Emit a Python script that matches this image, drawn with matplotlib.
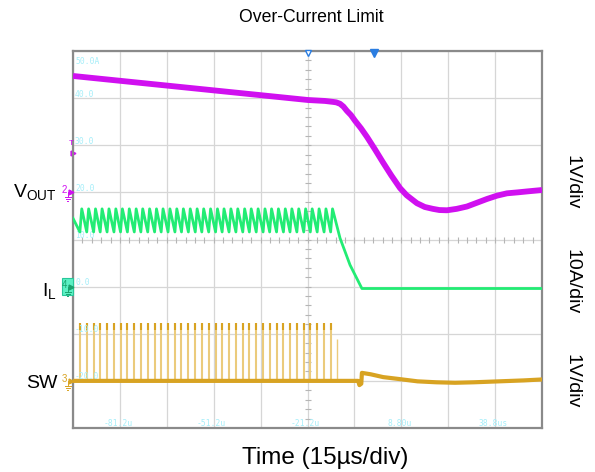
import numpy as np
import matplotlib
matplotlib.use('Agg')
import matplotlib.pyplot as plt
from matplotlib.patches import Rectangle

plt.rcParams['font.family'] = ['Liberation Sans', 'DejaVu Sans']
plt.rcParams['mathtext.default'] = 'regular'

# ─── Scope-Daten: Zeit in µs, Amplitude in Raster-Einheiten (10 pro div) ──────

T_LEFT, T_RIGHT = -96.2, 53.8
Y_BOT, Y_TOP = -30, 50

# V_OUT (Kanal 2, magenta)
VOUT_T = [-96.2, -21.05, -15.6, -13.05, -12.0, -10.8, -9.7, -8.6, -7.3, -6.0,
          -4.1, -2.2, 0.4, 2.9, 5.6, 8.4, 10.5, 13.8, 16.3, 18.9,
          21.0, 23.4, 26.5, 29.8, 33.0, 36.2, 39.4, 42.6, 46.0, 49.0, 53.8]
VOUT_V = [44.7, 39.6, 39.4, 39.2, 39.1, 38.8, 38.2, 37.3, 36.4, 35.2,
          33.6, 31.8, 29.1, 26.4, 23.6, 20.9, 19.4, 17.7, 16.9, 16.5,
          16.25, 16.2, 16.5, 17.0, 17.8, 18.6, 19.3, 19.8, 20.0, 20.2, 20.5]

# SW-Pulse (Kanal 3, gold) - Zeitpunkte der Einschaltpulse
SW_PULSE_T = [-94.0, -91.8, -89.6, -87.5, -85.3, -83.1, -81.0, -78.8, -76.6, -74.5,
              -72.3, -70.1, -68.0, -65.8, -63.6, -61.5, -59.3, -57.1, -55.0, -52.8,
              -50.6, -48.5, -46.3, -44.1, -41.9, -39.8, -37.6, -35.4, -33.3, -31.1,
              -28.9, -26.8, -24.6, -22.4, -20.3, -18.1, -15.9, -13.8]
SW_PULSE_TOP = -7.7
SW_RUNT_T = [-11.8]
SW_RUNT_TOP = [-11.1]
SW_BASE_T = [-96.2, -5.0, -4.6, -4.0, -3.8, -1.0, 3.0, 8.0, 14.0, 20.0,
             26.0, 32.0, 40.0, 48.0, 53.8]
SW_BASE_V = [-20.0, -20.0, -20.9, -20.6, -18.3, -18.6, -19.2, -19.6, -20.1, -20.3,
             -20.4, -20.3, -20.1, -19.9, -19.7]

# I_L (Kanal 4, gruen) - Dreieck zwischen Tal und Spitze, danach Abfall
IL_START = 14.5
IL_VALLEY = 11.6
IL_PEAK = 16.5
IL_RISE_US = 0.6
IL_DROP_T = [-13.2, -10.8, -7.6, -3.8, 53.8]
IL_DROP_V = [16.5, 10.3, 4.6, -0.4, -0.4]

# Beschriftungen
LEVEL_LABELS = ['40.0', '30.0', '20.0', '10.0', '0.0', '-10.0', '-20.0']
LEVEL_VALUES = [40, 30, 20, 10, 0, -10, -20]
TIME_LABELS = ['-81.2u', '-51.2u', '-21.2u', '8.80u', '38.8us']
TIME_VALUES = [-81.2, -51.2, -21.2, 8.8, 38.8]

# ─── Farben ───────────────────────────────────────────────────────────────────
COL_VOUT = '#d010f0'
COL_IL = '#22ec74'
COL_SW = '#d8a322'
COL_SW_LIGHT = '#ebcb7c'
COL_LBL = '#a6eef9'
COL_GRID = '#d6d6d6'
COL_FRAME = '#8a8a8a'
COL_TRIG = '#2a7de1'

PX_T = 15 / 46.9     # µs pro Pixel
PX_V = 10 / 47.125   # Einheiten pro Pixel


def chan_marker(ax, level, num, color, box=None):
    x0 = T_LEFT
    if box:
        ax.add_patch(Rectangle((x0 - 11 * PX_T, level - 8 * PX_V), 10.5 * PX_T, 17 * PX_V,
                               fc=box, ec='#28c79a', lw=0.8, clip_on=False, zorder=6))
    ax.text(x0 - 8.5 * PX_T, level + 2 * PX_V, num, color=color, fontsize=7,
            ha='center', va='center', clip_on=False, zorder=7)
    ax.plot([x0 - 2.5 * PX_T], [level], marker='>', ms=3.5, color=color,
            clip_on=False, zorder=7)
    gx = x0 - 5.5 * PX_T
    kw = dict(color=color, lw=0.7, clip_on=False, zorder=7)
    ax.plot([gx, gx], [level, level - 5 * PX_V], **kw)
    for w, dy in [(3, 5), (2, 7), (1, 9)]:
        ax.plot([gx - w * PX_T, gx + w * PX_T], [level - dy * PX_V] * 2, **kw)


fig = plt.figure(figsize=(5.95, 4.72), dpi=100)
ax = fig.add_axes([73 / 595, 1 - 428 / 472, 469 / 595, 377 / 472])
ax.set_xlim(T_LEFT, T_RIGHT)
ax.set_ylim(Y_BOT, Y_TOP)

# Raster
ax.set_xticks(np.linspace(T_LEFT, T_RIGHT, 11))
ax.set_yticks(np.arange(Y_BOT, Y_TOP + 1, 10))
ax.tick_params(length=0, labelbottom=False, labelleft=False)
ax.grid(True, color=COL_GRID, lw=0.9)
ax.set_axisbelow(True)
for sp in ax.spines.values():
    sp.set_color(COL_FRAME)
    sp.set_linewidth(1.6)

t_mid = (T_LEFT + T_RIGHT) / 2
ax.plot(np.full(41, t_mid), np.arange(Y_BOT, Y_TOP + 0.1, 2), ls='none',
        marker='_', ms=4, mew=0.8, color='#b5b5b5', zorder=1)
ax.plot(np.linspace(T_LEFT, T_RIGHT, 51), np.full(51, 10), ls='none',
        marker='|', ms=4, mew=0.8, color='#b5b5b5', zorder=1)

# SW
ax.vlines(SW_PULSE_T, SW_BASE_V[0], SW_PULSE_TOP, color=COL_SW_LIGHT, lw=1.5, zorder=2)
ax.vlines(SW_PULSE_T, SW_PULSE_TOP - 1.6, SW_PULSE_TOP, color=COL_SW, lw=1.5, zorder=2)
ax.vlines(SW_RUNT_T, SW_BASE_V[0], SW_RUNT_TOP, color=COL_SW_LIGHT, lw=1.0, zorder=2)
ax.plot(SW_BASE_T, SW_BASE_V, color=COL_SW, lw=3.0, solid_joinstyle='round', zorder=3)

# I_L
il_t = [T_LEFT]
il_v = [IL_START]
for tk in SW_PULSE_T:
    il_t += [tk, tk + IL_RISE_US]
    il_v += [IL_VALLEY, IL_PEAK]
il_t += IL_DROP_T[1:]
il_v += IL_DROP_V[1:]
ax.plot(il_t, il_v, color=COL_IL, lw=2.0, zorder=4)

# V_OUT
ax.plot(VOUT_T, VOUT_V, color=COL_VOUT, lw=4.2, solid_capstyle='butt',
        solid_joinstyle='round', zorder=5)

# Scope-Beschriftungen
mono = dict(family='DejaVu Sans Mono', fontsize=5.8, color=COL_LBL)
ax.text(T_LEFT + 2 * PX_T, Y_TOP - 1.2, '50.0A', ha='left', va='top', **mono)
for lbl, val in zip(LEVEL_LABELS, LEVEL_VALUES):
    ax.text(T_LEFT + 2 * PX_T, val + 4 * PX_V, lbl, ha='left', va='center', **mono)
for lbl, val in zip(TIME_LABELS, TIME_VALUES):
    ax.text(val - 2 * PX_T, Y_BOT + 5 * PX_V, lbl, ha='center', va='center', **mono)

# Kanal-Marker
chan_marker(ax, 20, '2', COL_VOUT)
chan_marker(ax, 0, '4', '#1aa36e', box='#5cf0c4')
chan_marker(ax, -20, '3', COL_SW)
ax.text(T_LEFT - 1.5 * PX_T, 28.4 + 9 * PX_V, 'T', color=COL_VOUT, fontsize=6,
        ha='center', va='center', clip_on=False)
ax.plot([T_LEFT - 0.5 * PX_T], [28.4], marker='>', ms=3.5, color=COL_VOUT, clip_on=False)

# Trigger-Marker oben
ax.plot([t_mid], [Y_TOP - 2.5 * PX_V], marker='v', ms=5, mfc='white', mec=COL_TRIG,
        mew=1.0, clip_on=False, zorder=8)
ax.plot([0.0], [Y_TOP - 2.5 * PX_V], marker='v', ms=6, color=COL_TRIG, clip_on=False, zorder=8)

# Text aussen
fig.text(0.524, 1 - 18 / 472, 'Over-Current Limit', ha='center', va='center', fontsize=12.7)
fig.text(0.546, 1 - 458 / 472, 'Time (15µs/div)', ha='center', va='center', fontsize=17.5)
fig.text(57 / 595, 1 - 192 / 472, r'V$_{OUT}$', ha='right', va='center', fontsize=14)
fig.text(57 / 595, 1 - 291 / 472, r'I$_{L}$', ha='right', va='center', fontsize=14)
fig.text(57 / 595, 1 - 384 / 472, 'SW', ha='right', va='center', fontsize=14)
for lbl, ypx in [('1V/div', 182), ('10A/div', 282), ('1V/div', 381)]:
    fig.text(572 / 595, 1 - ypx / 472, lbl, ha='center', va='center', fontsize=14,
             rotation=270)

fig.savefig('out.png', dpi=100)
